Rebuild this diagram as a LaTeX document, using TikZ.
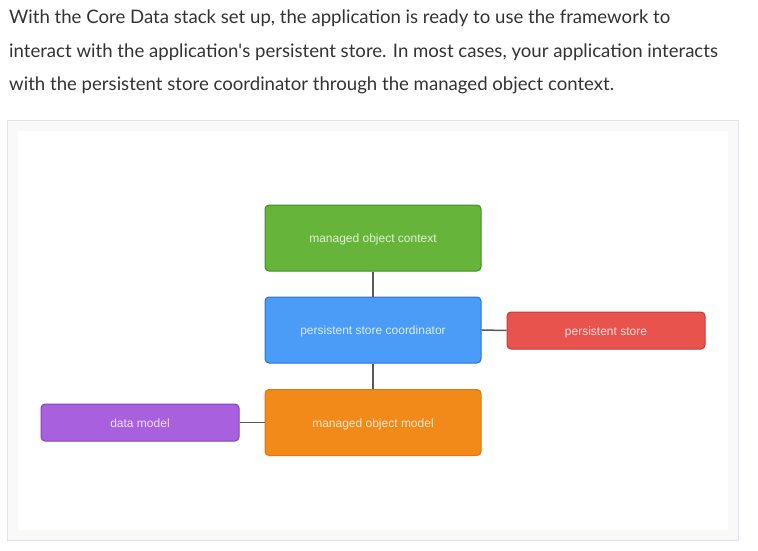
\documentclass[tikz,border=0pt]{standalone}
\usepackage{fontspec}
\setmainfont{Lato}
\newfontfamily\boxfont{Liberation Sans}
\begin{document}
\begin{tikzpicture}[x=1pt,y=-1pt,
  para/.style={anchor=base west,inner sep=0pt,text=black!80,font=\fontsize{18.6}{22}\selectfont},
  box/.style={draw,rounded corners=4pt,line width=1pt,inner sep=0pt,text height=10pt,text depth=1pt,
    text=white,text opacity=0.8,font=\boxfont\fontsize{12}{14}\selectfont},
  link/.style={draw=black!65,line width=1.5pt}]
\definecolor{gfill}{HTML}{66B53A}\definecolor{gline}{HTML}{3E8E2C}
\definecolor{bfill}{HTML}{4A9CF6}\definecolor{bline}{HTML}{2B6FD2}
\definecolor{ofill}{HTML}{F28A1A}\definecolor{oline}{HTML}{E47414}
\definecolor{pfill}{HTML}{A860DE}\definecolor{pline}{HTML}{8643B8}
\definecolor{rfill}{HTML}{E8534E}\definecolor{rline}{HTML}{C93A33}
\definecolor{framebg}{HTML}{F9F9F9}\definecolor{frameln}{HTML}{DCE3EB}
\useasboundingbox (0,0) rectangle (758,551);
\fill[white] (0,0) rectangle (758,551);
\node[para] (l1) at (9,24) {With the Core Data stack set up, the application is ready to use the framework to};
\node[para] (l2) at (9,57.5) {interact with the application\textquotesingle s persistent store. In most cases, your application interacts};
\node[para] (l3) at (9,91) {with the persistent store coordinator through the managed object context.};
\draw[frameln,fill=framebg,line width=1pt] (7.5,120.5) rectangle (738.5,540);
\fill[white] (18,131) rectangle (728,530);
\node[box,fill=gfill,draw=gline,minimum width=216pt,minimum height=66pt] (moc) at (373,238) {managed object context};
\node[box,fill=bfill,draw=bline,minimum width=216pt,minimum height=66pt] (psc) at (373,330) {persistent store coordinator};
\node[box,fill=ofill,draw=oline,minimum width=216pt,minimum height=66pt] (mom) at (373,422.5) {managed object model};
\node[box,fill=pfill,draw=pline,minimum width=198pt,minimum height=37pt] (dm) at (140,422.5) {data model};
\node[box,fill=rfill,draw=rline,minimum width=198pt,minimum height=37pt] (ps) at (606,330.5) {persistent store};
\draw[link] (moc) -- (psc);
\draw[link] (psc) -- (mom);
\draw[link] (psc.east) -- (ps.west);
\draw[link] (dm.east) -- (mom.west |- dm.east);
\end{tikzpicture}
\end{document}
